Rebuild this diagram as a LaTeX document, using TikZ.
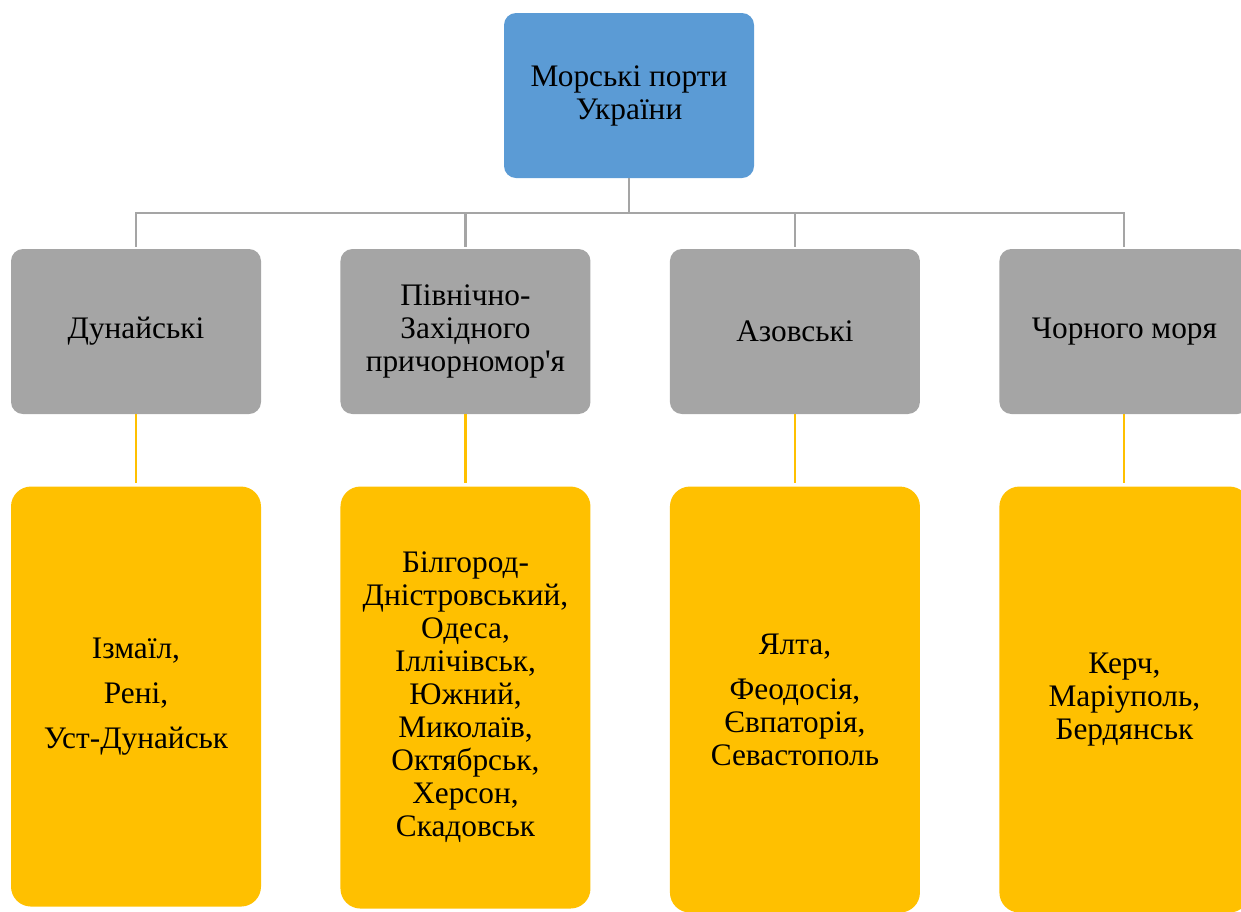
\documentclass[tikz,border=0pt]{standalone}
\usepackage{fontspec}
\setmainfont{Liberation Serif}
\usepackage{tikz}
\usetikzlibrary{positioning,calc}
\definecolor{PortBlue}{HTML}{5B9BD5}
\definecolor{PortGrey}{HTML}{A5A5A5}
\definecolor{PortGold}{HTML}{FFC000}

\begin{document}
\begin{tikzpicture}[x=0.75pt,y=-0.75pt,node distance=54pt and 59.2pt]
  \tikzstyle{box}=[rounded corners=9pt, minimum width=187.5pt, minimum height=123.75pt, inner sep=0pt, align=center, font=\fontsize{23.5}{24.75}\selectfont]
  \tikzstyle{sea}=[box, rounded corners=15pt, fill=PortGold]
  \tikzstyle{bus}=[line width=1.6pt, color=PortGrey]
  \useasboundingbox (0,0) rectangle (1241,911);
  \node[box, fill=PortBlue] (top) at (629,95.5) {Морські порти\\України};
  \node[box, fill=PortGrey] (g1) at (136,331.5) {Дунайські};
  \node[box, fill=PortGrey, right=of g1] (g2) {Північно-\\Західного\\причорномор\textquotesingle я};
  \node[box, fill=PortGrey, right=of g2] (g3) {Азовські};
  \node[box, fill=PortGrey, right=of g3] (g4) {Чорного моря};
  \node[sea, minimum height=315pt, below=of g1] (y1) {Ізмаїл,\\[9pt]Рені,\\[9pt]Уст-Дунайськ};
  \node[sea, minimum height=316.5pt, below=of g2] (y2) {Білгород-\\Дністровський,\\Одеса,\\Іллічівськ,\\Южний,\\Миколаїв,\\Октябрськ,\\Херсон,\\Скадовськ};
  \node[sea, minimum height=319.5pt, below=of g3] (y3) {Ялта,\\[9pt]Феодосія,\\Євпаторія,\\Севастополь};
  \node[sea, minimum height=319.5pt, below=of g4] (y4) {Керч,\\Маріуполь,\\Бердянськ};
  \coordinate (fork) at (629,213);
  \draw[bus] (top.south) -- (fork);
  \foreach \g in {g1,g2,g3,g4}
    \draw[bus] (fork) -| ($(\g.north)+(0,-2)$);
  \foreach \g/\y in {g1/y1,g2/y2,g3/y3,g4/y4}
    \draw[line width=1.6pt, color=PortGold] (\g.south) -- ($(\y.north)+(0,-3)$);
\end{tikzpicture}
\end{document}
